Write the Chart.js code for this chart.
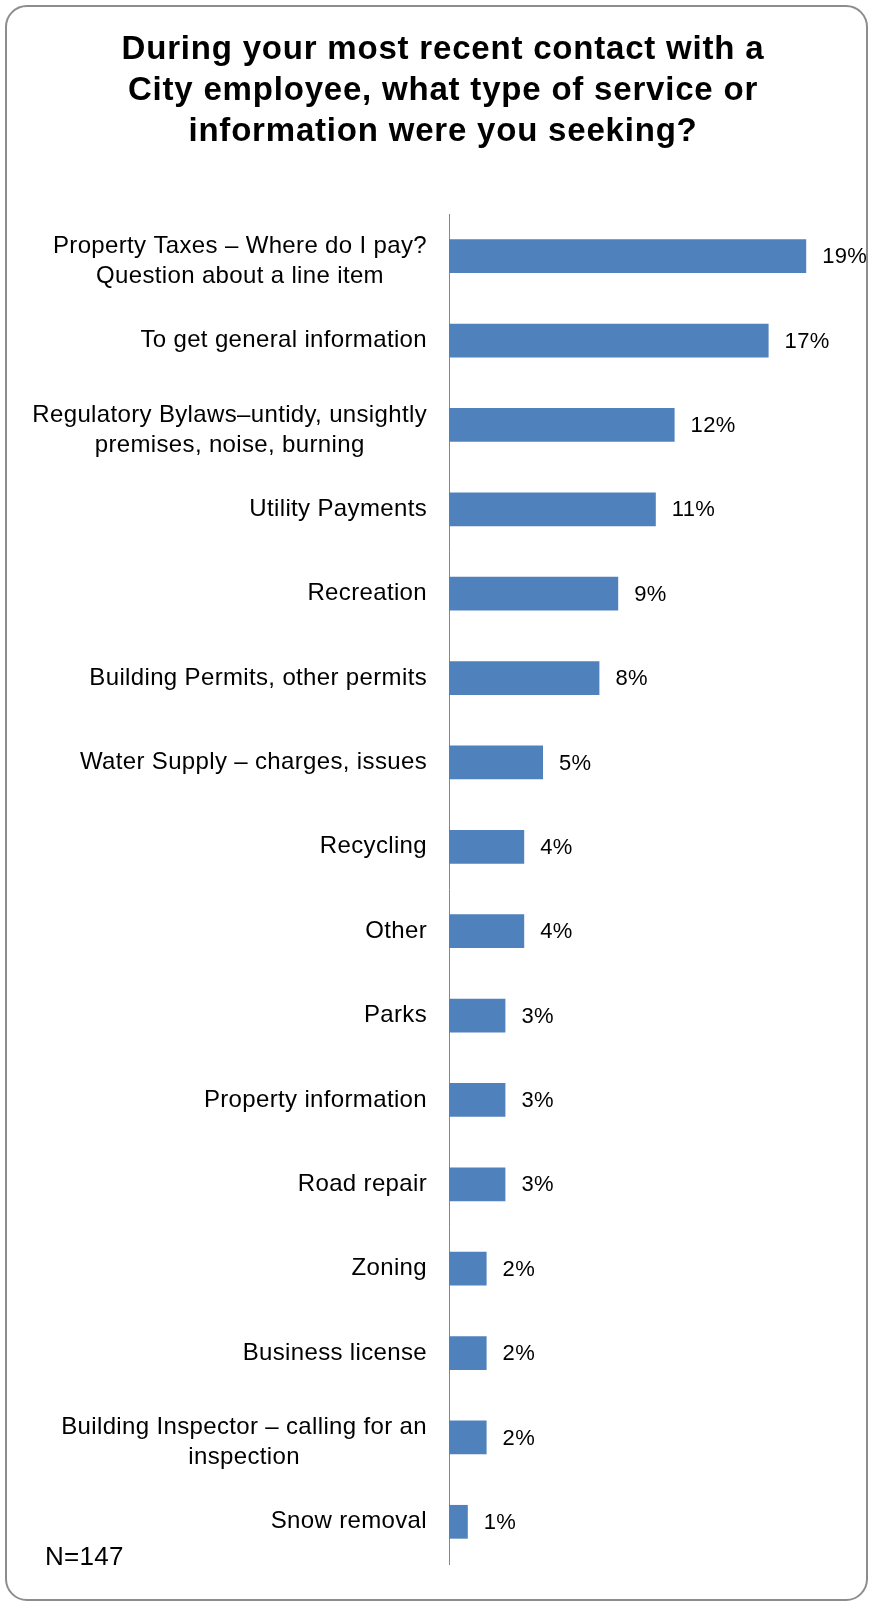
<!DOCTYPE html>
<html>
<head>
<meta charset="utf-8">
<script src="https://cdn.jsdelivr.net/npm/chart.js@4"></script>
<style>
  html, body { margin: 0; padding: 0; background: #fff; }
  #wrap { position: relative; width: 869px; height: 1602px; }
  #frame {
    position: absolute; left: 5px; top: 5px; width: 863px; height: 1596px;
    box-sizing: border-box; border: 2px solid #8d8d8d; border-radius: 22px;
  }
  #contactChart { position: absolute; left: 0; top: 0; }
</style>
</head>
<body>
<div id="wrap">
  <div id="frame"></div>
  <canvas id="contactChart" width="869" height="1602"></canvas>
</div>
<script>
// survey answers, one entry per bar (arrays = wrapped label lines)
const categories = [
  ['Property Taxes – Where do I pay?', 'Question about a line item'],
  'To get general information',
  ['Regulatory Bylaws–untidy, unsightly', 'premises, noise, burning'],
  'Utility Payments',
  'Recreation',
  'Building Permits, other permits',
  'Water Supply – charges, issues',
  'Recycling',
  'Other',
  'Parks',
  'Property information',
  'Road repair',
  'Zoning',
  'Business license',
  ['Building Inspector – calling for an', 'inspection'],
  'Snow removal'
];
const percents = [19, 17, 12, 11, 9, 8, 5, 4, 4, 3, 3, 3, 2, 2, 2, 1];
const titleLines = [
  'During your most recent contact with a',
  'City employee, what type of service or',
  'information were you seeking?'
];
const sampleNote = 'N=147';

const FONT = '"Liberation Sans", Arial, sans-serif';

// a bit of tracking on the title (only the title is drawn before the bars)
const titleSpacing = {
  id: 'titleSpacing',
  beforeDraw(chart) { chart.ctx.letterSpacing = '0.8px'; },
  beforeDatasetsDraw(chart) { chart.ctx.letterSpacing = '0px'; }
};

// category names, right aligned next to the axis, wrapped lines centred on each other
const categoryLabels = {
  id: 'categoryLabels',
  afterDraw(chart) {
    const ctx = chart.ctx;
    const y = chart.scales.y;
    ctx.save();
    ctx.font = '24px ' + FONT;
    ctx.letterSpacing = '0.35px';
    ctx.fillStyle = '#000';
    ctx.textAlign = 'center';
    ctx.textBaseline = 'middle';
    categories.forEach(function(lab, i) {
      const lines = Array.isArray(lab) ? lab : [lab];
      const w = Math.max.apply(null, lines.map(function(l) { return ctx.measureText(l).width; }));
      const cx = y.right - 22 - w / 2;
      let cy = y.getPixelForValue(i);
      if (lines.length > 1) cy += 5;
      lines.forEach(function(l, j) {
        ctx.fillText(l, cx, cy + (j - (lines.length - 1) / 2) * 30);
      });
    });
    // sample size note, bottom left
    ctx.font = '26px ' + FONT;
    ctx.letterSpacing = '0.3px';
    ctx.textAlign = 'left';
    ctx.fillText(sampleNote, 45, 1558);
    ctx.restore();
  }
};

// percent value printed after each bar
const valueLabels = {
  id: 'valueLabels',
  afterDatasetsDraw(chart) {
    const ctx = chart.ctx;
    const meta = chart.getDatasetMeta(0);
    ctx.save();
    ctx.font = '22px ' + FONT;
    ctx.letterSpacing = '0.3px';
    ctx.fillStyle = '#000';
    ctx.textAlign = 'left';
    ctx.textBaseline = 'middle';
    meta.data.forEach(function(bar, i) {
      ctx.fillText(percents[i] + '%', bar.x + 16, bar.y + 1);
    });
    ctx.restore();
  }
};

const context = document.getElementById('contactChart').getContext('2d');
const contactChart = new Chart(context, {
  type: 'bar',
  data: {
    labels: categories,
    datasets: [{
      data: percents,
      backgroundColor: '#4f81bd',
      barPercentage: 0.4,
      categoryPercentage: 1.0
    }]
  },
  options: {
    indexAxis: 'y',
    responsive: false,
    animation: false,
    layout: { padding: { left: 61, right: 44, top: 0, bottom: 38 } },
    scales: {
      x: { display: false, min: 0, max: 20 },
      y: {
        display: true,
        grid: { display: false },
        ticks: { display: false },
        border: { display: true, color: '#868686', width: 1 },
        afterFit: function(scale) { scale.width = 388; }
      }
    },
    plugins: {
      legend: { display: false },
      tooltip: { enabled: false },
      title: {
        display: true,
        text: titleLines,
        color: '#000',
        font: { family: FONT, size: 33, weight: 'bold', lineHeight: 41 / 33 },
        padding: { top: 29.5, bottom: 61.5 }
      }
    }
  },
  plugins: [titleSpacing, categoryLabels, valueLabels]
});
</script>
</body>
</html>
